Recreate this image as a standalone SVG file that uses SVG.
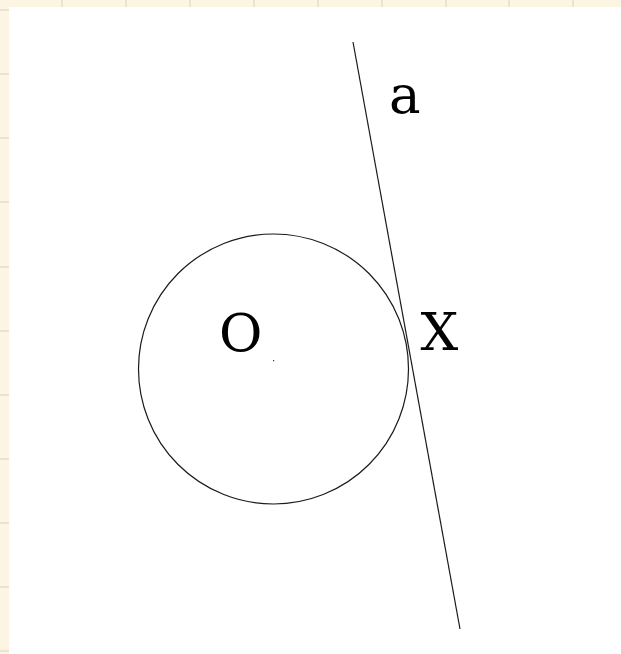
<svg xmlns="http://www.w3.org/2000/svg" width="621" height="654" viewBox="0 0 621 654">
<style>
.bg{fill:#fdf5e3}
.grid{stroke:#e6dccb;stroke-width:1.5}
.paper{fill:#ffffff}
.shape{fill:none;stroke:#1a1a1a;stroke-width:1.2}
.lbl{font-family:'DejaVu Serif','Liberation Serif',serif;font-size:53px;fill:#000}
</style>
<rect class="bg" x="0" y="0" width="621" height="654"/>
<g id="grid">
<path class="grid" d="M62,0V7M126,0V7M190,0V7M254,0V7M318,0V7M382,0V7M446,0V7M509,0V7M573,0V7"/>
<path class="grid" d="M0,10H9M0,74H9M0,138H9M0,202H9M0,267H9M0,331H9M0,395H9M0,459H9M0,523H9M0,587H9M0,651H9"/>
</g>
<rect class="paper" x="9" y="7" width="612" height="647"/>
<g id="connectors">
<line id="line-a" class="shape" x1="353" y1="42" x2="460" y2="629"/>
</g>
<g id="circle-O">
<circle class="shape" cx="273.5" cy="369" r="135"/>
<rect x="273" y="360" width="1.2" height="1.2" fill="#333"/>
</g>
<g id="label-O"><text class="lbl" x="219" y="351">O</text></g>
<g id="label-X"><text class="lbl" x="420.5" y="350">X</text></g>
<g id="label-a"><text class="lbl" x="389" y="113">a</text></g>
</svg>
